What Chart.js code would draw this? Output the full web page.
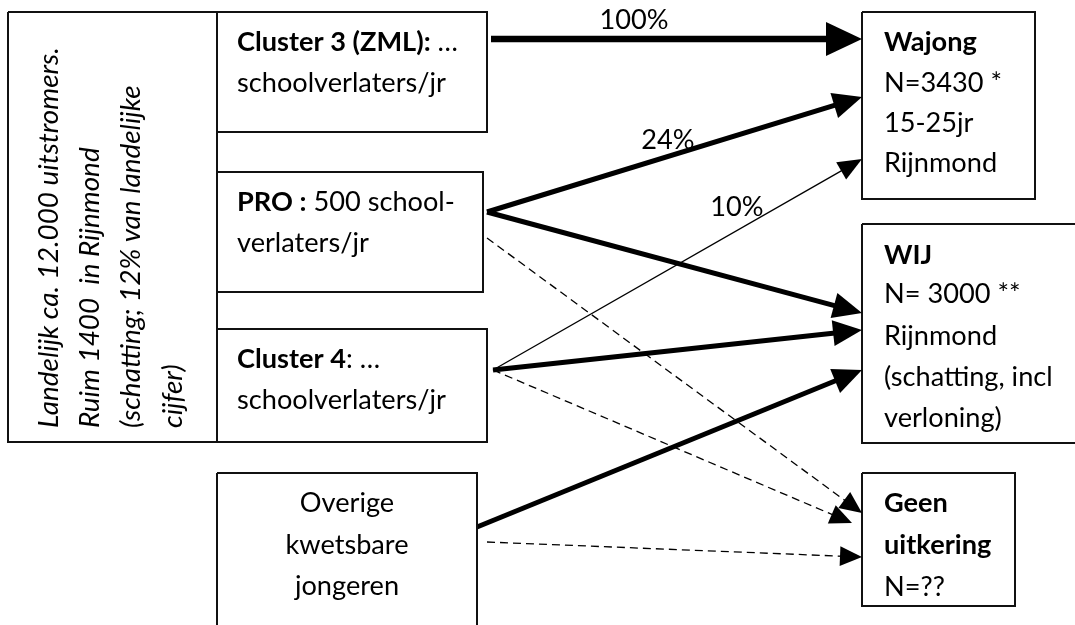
<!DOCTYPE html>
<html>
<head>
<meta charset="utf-8">
<script src="https://cdn.jsdelivr.net/npm/chart.js@4.4.1/dist/chart.umd.min.js"></script>
<style>
  html, body { margin: 0; padding: 0; background: #fff; }
  #c { display: block; }
</style>
</head>
<body>
<canvas id="c" width="1075" height="625"></canvas>
<script>
// ---- Diagram data (page coordinates, y downward) ----
const boxNames = ["outer", "cluster3", "pro", "cluster4", "overige", "wajong", "wij", "geen"];
const boxLeft   = [8,   217, 217, 217, 217, 862, 862,  862];
const boxTop    = [12,  12,  172, 329, 473, 12,  224,  473];
const boxRight  = [217, 487, 483, 487, 477, 1035, 1095, 1015];
const boxBottom = [442, 132, 292, 442, 640, 199, 443,  606];

const arrowFromX = [491, 487, 487, 487, 493, 493, 493, 477, 487];
const arrowFromY = [39,  212, 212, 238, 370, 370, 370, 527, 542];
const arrowToX   = [862, 862, 862, 862, 862, 862, 852, 862, 862];
const arrowToY   = [39,  97,  313, 513, 159, 330, 523, 370, 557];
const arrowKind  = ["heavy", "thick", "thick", "dash", "thin", "thick", "dash", "thick", "dash"];

const flowLabels  = ["100%", "24%", "10%"];
const flowLabelX  = [634, 668, 737];
const flowLabelY  = [29, 149, 216];

// text lines: [x, baselineY, align, segments]
const boxTexts = [
  [237, 51,  "left", [["Cluster 3 (ZML):", true], [" …", false]]],
  [237, 92,  "left", [["schoolverlaters/jr", false]]],
  [237, 211, "left", [["PRO :", true], [" 500 school-", false]]],
  [237, 252, "left", [["verlaters/jr", false]]],
  [237, 368, "left", [["Cluster 4", true], [": …", false]]],
  [237, 409, "left", [["schoolverlaters/jr", false]]],
  [347, 512, "center", [["Overige", false]]],
  [347, 554, "center", [["kwetsbare", false]]],
  [347, 595, "center", [["jongeren", false]]],
  [884, 51,  "left", [["Wajong", true]]],
  [884, 92,  "left", [["N=3430 *", false]]],
  [884, 132, "left", [["15-25jr", false]]],
  [884, 172, "left", [["Rijnmond", false]]],
  [884, 264, "left", [["WIJ", true]]],
  [884, 303, "left", [["N= 3000 **", false]]],
  [884, 345, "left", [["Rijnmond", false]]],
  [884, 386, "left", [["(schatting, incl", false]]],
  [884, 427, "left", [["verloning)", false]]],
  [884, 512, "left", [["Geen", true]]],
  [884, 554, "left", [["uitkering", true]]],
  [884, 596, "left", [["N=??", false]]]
];

const sideLines = [
  "Landelijk ca. 12.000 uitstromers.",
  "Ruim 1400  in Rijnmond",
  "(schatting; 12% van landelijke",
  "cijfer)"
];
const sideBaseX = [58, 99, 140, 182];
const sideStartY = 428;

// ---- Styles ----
const FONT_FAMILY = "Lato, 'Open Sans', sans-serif";
const arrowStyle = {
  heavy: { width: 6.5, headLen: 36, headHalf: 17, dash: [] },
  thick: { width: 5,   headLen: 29, headHalf: 13, dash: [] },
  thin:  { width: 1.3, headLen: 24, headHalf: 10, dash: [] },
  dash:  { width: 1.3, headLen: 22, headHalf: 10, dash: [8, 5] }
};

// fit font size so the reference string has the width seen in the picture
const measureCtx = document.createElement("canvas").getContext("2d");
function fitSize(text, target, style) {
  measureCtx.font = style + " 100px " + FONT_FAMILY;
  return 100 * target / measureCtx.measureText(text).width;
}
const FS = fitSize("schoolverlaters/jr", 209, "normal");
const FS_IT = fitSize("Landelijk ca. 12.000 uitstromers.", 381, "italic");

// ---- Datasets ----
const datasets = [];
boxNames.forEach((n, i) => {
  const l = boxLeft[i], t = boxTop[i], r = boxRight[i], b = boxBottom[i];
  datasets.push({
    label: n,
    data: [{x: l, y: t}, {x: r, y: t}, {x: r, y: b}, {x: l, y: b}, {x: l, y: t}],
    showLine: true, borderColor: "#111", borderWidth: 2, pointRadius: 0,
    borderJoinStyle: "miter", fill: false, tension: 0
  });
});
arrowKind.forEach((k, i) => {
  const st = arrowStyle[k];
  const dx = arrowToX[i] - arrowFromX[i], dy = arrowToY[i] - arrowFromY[i];
  const len = Math.hypot(dx, dy);
  const cut = st.headLen * 0.85;
  datasets.push({
    label: "arrow" + i,
    data: [{x: arrowFromX[i], y: arrowFromY[i]},
           {x: arrowToX[i] - dx / len * cut, y: arrowToY[i] - dy / len * cut}],
    showLine: true, borderColor: "#000", borderWidth: st.width, pointRadius: 0,
    borderDash: st.dash, borderCapStyle: "butt", fill: false, tension: 0
  });
});

const diagramPlugin = {
  id: "diagram",
  afterDatasetsDraw(chart) {
    const ctx = chart.ctx, xs = chart.scales.x, ys = chart.scales.y;
    ctx.save();
    // arrow heads
    arrowKind.forEach((k, i) => {
      const st = arrowStyle[k];
      const x1 = xs.getPixelForValue(arrowFromX[i]), y1 = ys.getPixelForValue(arrowFromY[i]);
      const x2 = xs.getPixelForValue(arrowToX[i]),   y2 = ys.getPixelForValue(arrowToY[i]);
      const a = Math.atan2(y2 - y1, x2 - x1);
      const bx = x2 - Math.cos(a) * st.headLen, by = y2 - Math.sin(a) * st.headLen;
      const px = -Math.sin(a) * st.headHalf, py = Math.cos(a) * st.headHalf;
      ctx.beginPath();
      ctx.moveTo(x2, y2);
      ctx.lineTo(bx + px, by + py);
      ctx.lineTo(bx - px, by - py);
      ctx.closePath();
      ctx.fillStyle = "#000";
      ctx.fill();
    });
    // texts
    ctx.fillStyle = "#000";
    ctx.textBaseline = "alphabetic";
    boxTexts.forEach(([x, y, align, segs]) => {
      let total = 0;
      segs.forEach(([t, b]) => { ctx.font = (b ? "bold " : "") + FS + "px " + FONT_FAMILY; total += ctx.measureText(t).width; });
      let cx = xs.getPixelForValue(x);
      if (align === "center") cx -= total / 2;
      const cy = ys.getPixelForValue(y);
      ctx.textAlign = "left";
      segs.forEach(([t, b]) => {
        ctx.font = (b ? "bold " : "") + FS + "px " + FONT_FAMILY;
        ctx.fillText(t, cx, cy);
        cx += ctx.measureText(t).width;
      });
    });
    // flow labels
    ctx.font = FS + "px " + FONT_FAMILY;
    ctx.textAlign = "center";
    flowLabels.forEach((t, i) => {
      ctx.fillText(t, xs.getPixelForValue(flowLabelX[i]), ys.getPixelForValue(flowLabelY[i]));
    });
    // rotated side text
    ctx.font = "italic " + FS_IT + "px " + FONT_FAMILY;
    ctx.textAlign = "left";
    sideLines.forEach((t, i) => {
      ctx.save();
      ctx.translate(xs.getPixelForValue(sideBaseX[i]), ys.getPixelForValue(sideStartY));
      ctx.rotate(-Math.PI / 2);
      ctx.fillText(t, 0, 0);
      ctx.restore();
    });
    ctx.restore();
  }
};

new Chart(document.getElementById("c"), {
  type: "scatter",
  data: { datasets },
  options: {
    responsive: false,
    animation: false,
    devicePixelRatio: 1,
    layout: { padding: 0 },
    plugins: { legend: { display: false }, tooltip: { enabled: false } },
    scales: {
      x: { type: "linear", min: 0, max: 1075, display: false },
      y: { type: "linear", min: 0, max: 625, reverse: true, display: false }
    }
  },
  plugins: [diagramPlugin]
});
</script>
</body>
</html>
